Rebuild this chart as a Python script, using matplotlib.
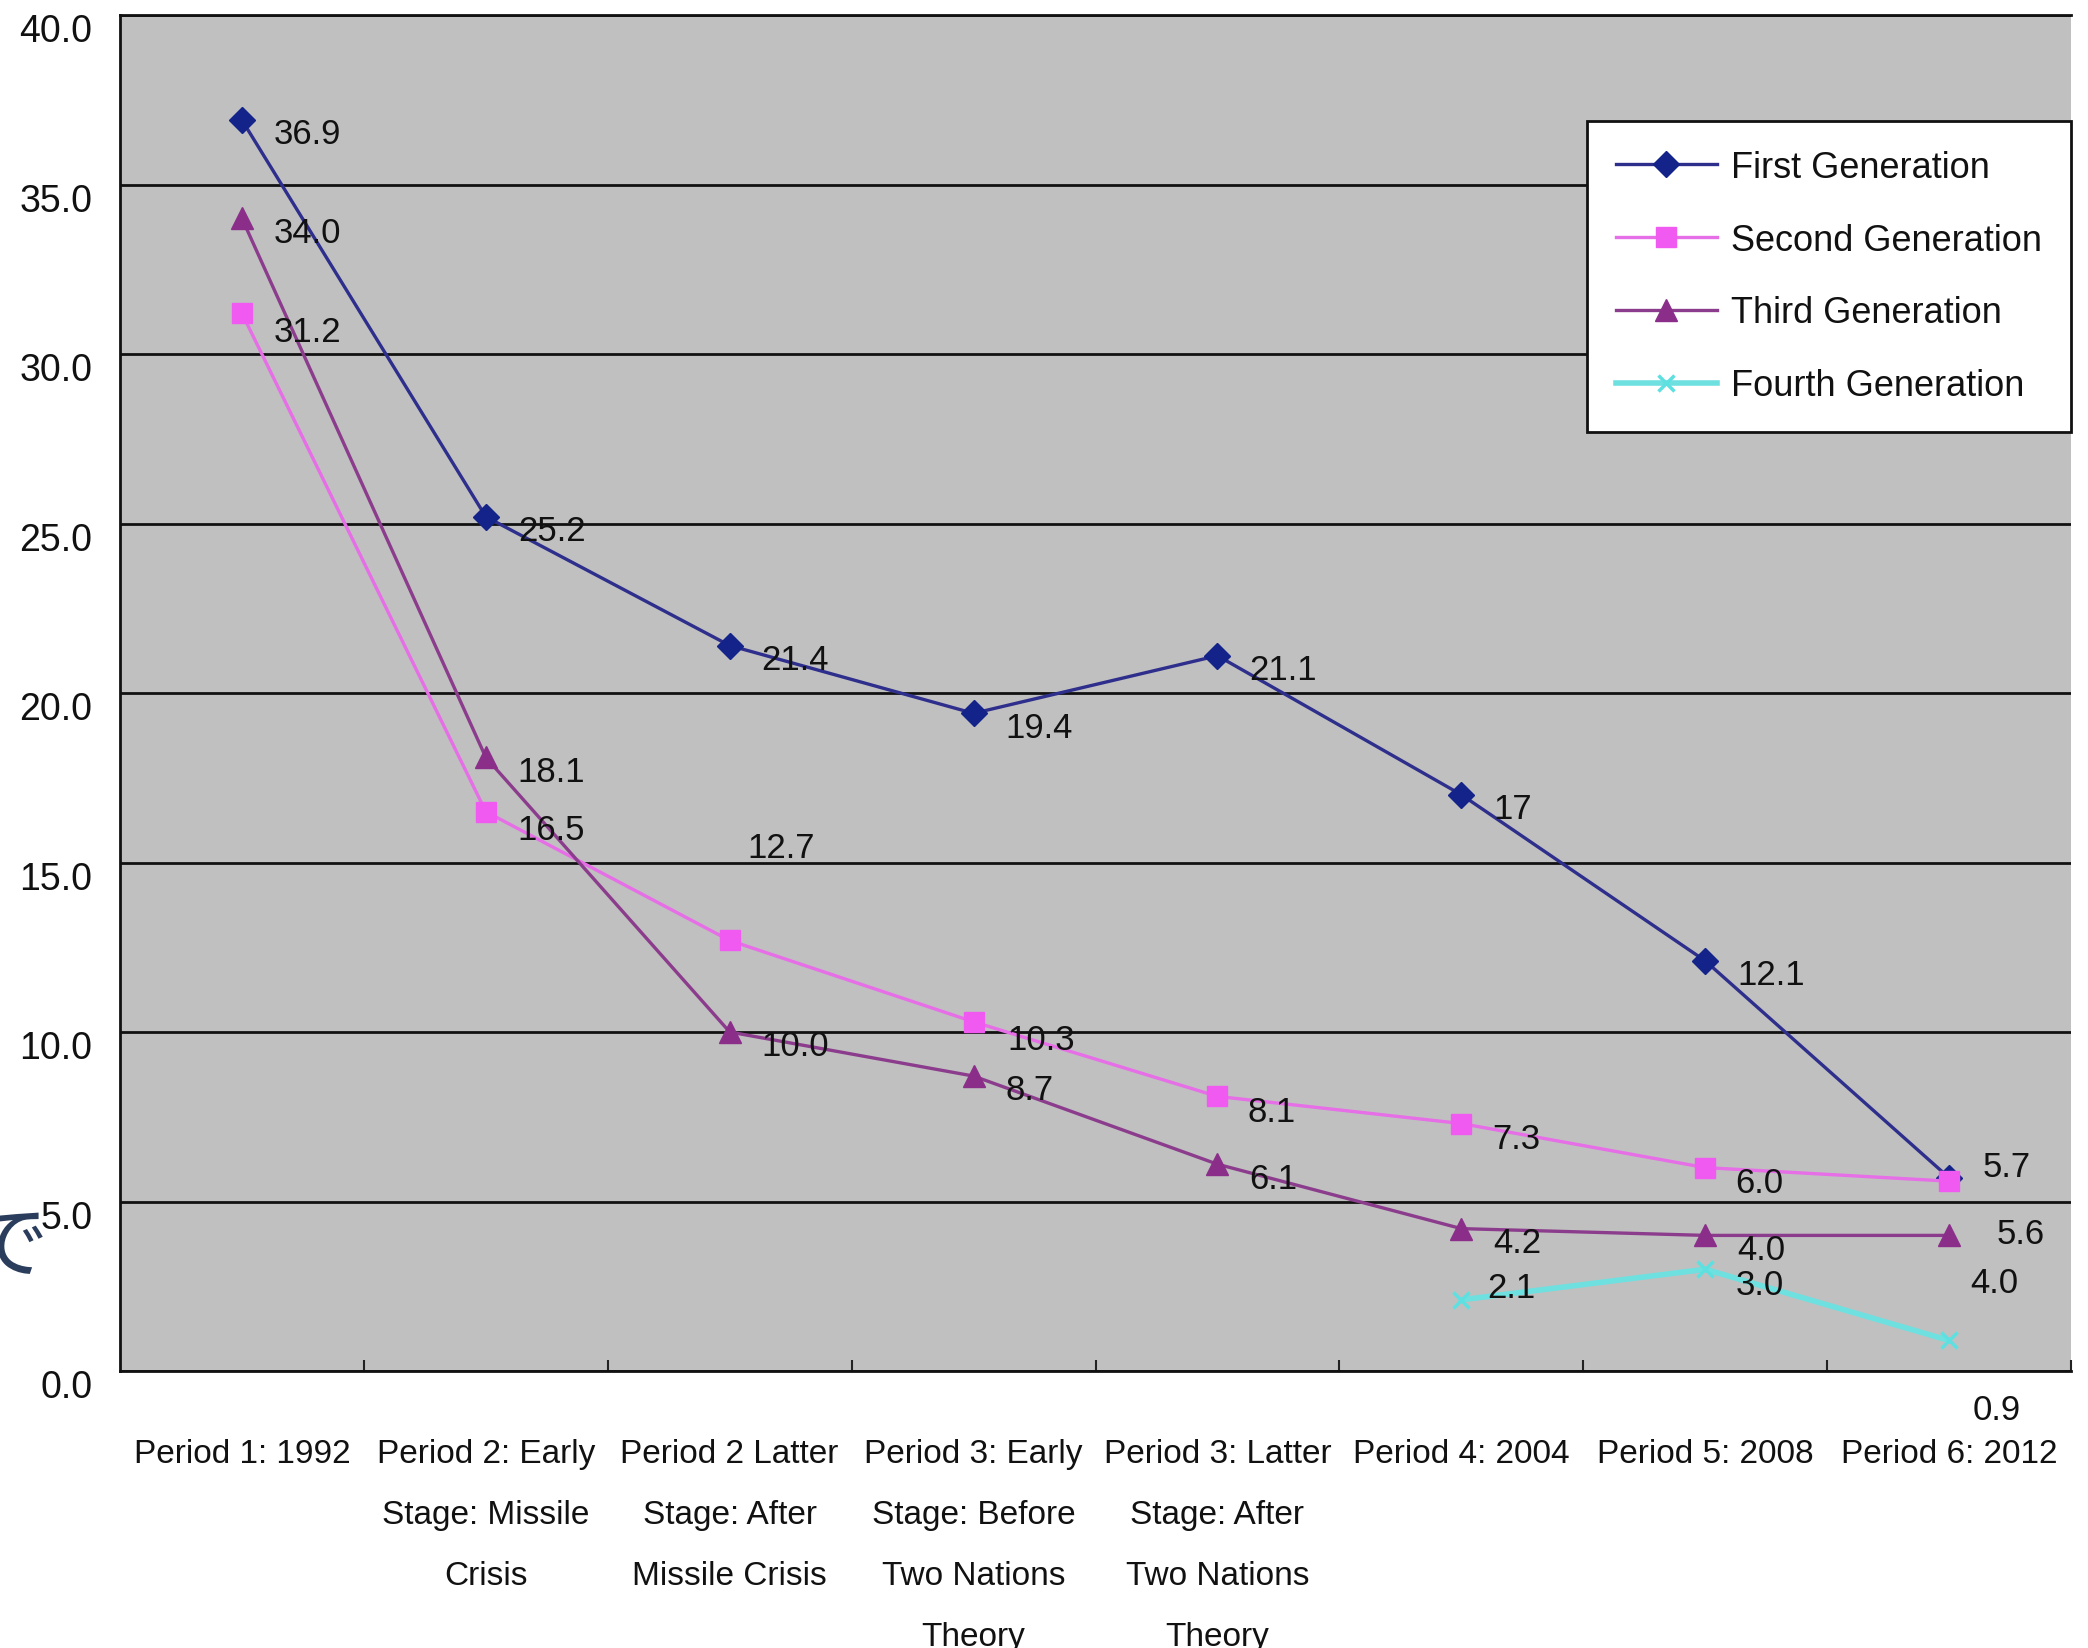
import matplotlib
matplotlib.use("Agg")
import matplotlib.pyplot as plt
import matplotlib.transforms as mtransforms
import numpy as np

plt.rcParams['font.family'] = ['Liberation Sans', 'DejaVu Sans']

periods = ['Period 1: 1992',
           'Period 2: Early\nStage: Missile\nCrisis',
           'Period 2 Latter\nStage: After\nMissile Crisis',
           'Period 3: Early\nStage: Before\nTwo Nations\nTheory',
           'Period 3: Latter\nStage: After\nTwo Nations\nTheory',
           'Period 4: 2004',
           'Period 5: 2008',
           'Period 6: 2012']

first = [36.9, 25.2, 21.4, 19.4, 21.1, 17.0, 12.1, 5.7]
second = [31.2, 16.5, 12.7, 10.3, 8.1, 7.3, 6.0, 5.6]
third = [34.0, 18.1, 10.0, 8.7, 6.1, 4.2, 4.0, 4.0]
fourth = [np.nan, np.nan, np.nan, np.nan, np.nan, 2.1, 3.0, 0.9]

first_lbl = ['36.9', '25.2', '21.4', '19.4', '21.1', '17', '12.1', '5.7']
second_lbl = ['31.2', '16.5', '12.7', '10.3', '8.1', '7.3', '6.0', '5.6']
third_lbl = ['34.0', '18.1', '10.0', '8.7', '6.1', '4.2', '4.0', '4.0']
fourth_lbl = ['', '', '', '', '', '2.1', '3.0', '0.9']

# label offsets (points) - excel put a few of them in odd places
first_off = [(23, -10)] * 7 + [(24, 8)]
second_off = [(23, -13), (23, -13), (13, 67), (24, -13), (22, -11), (22, -11), (22, -11), (34, -38)]
third_off = [(23, -10)] * 7 + [(15, -34)]
fourth_off = [(0, 0)] * 5 + [(19, 9), (22, -11), (17, -50)]

fig = plt.figure(figsize=(20.88, 16.49), dpi=100)
ax = fig.add_axes([120 / 2088, 277 / 1649, 1951 / 2088, 1356 / 1649])
ax.set_facecolor('#c0c0c0')

x = np.arange(len(periods)) + 0.5

series = [
    (first, first_lbl, first_off, 'First Generation', '#2e2e8c', '#14238a', 'D', 13),
    (second, second_lbl, second_off, 'Second Generation', '#e66ee6', '#f05af0', 's', 15),
    (third, third_lbl, third_off, 'Third Generation', '#8c3c8c', '#8a2e8a', '^', 16),
    (fourth, fourth_lbl, fourth_off, 'Fourth Generation', '#6fe0e0', '#5fe0e0', 'x', 11),
]

for vals, lbls, offs, name, lc, mc, mk, ms in series:
    lw = 4 if mk == 'x' else 2.4
    ax.plot(x, vals, color=lc, lw=lw, marker=mk, markersize=ms,
            markerfacecolor=mc, markeredgecolor=mc, markeredgewidth=2.5 if mk == 'x' else 1,
            label=name, zorder=3)
    for xi, v, t, o in zip(x, vals, lbls, offs):
        if t == '':
            continue
        ax.annotate(t, (xi, v), xytext=o, textcoords='offset points',
                    ha='left', va='center', fontsize=25, color='#111111',
                    annotation_clip=False, zorder=4)

ax.set_xlim(0, 8)
ax.set_ylim(0, 40)
ax.set_yticks(np.arange(0, 41, 5))
ax.set_yticklabels(['%.1f' % v for v in np.arange(0, 41, 5)], fontsize=27, color='#111111')
ax.yaxis.grid(True, color='#111111', lw=2)
ax.set_axisbelow(True)
ax.tick_params(axis='y', length=0, pad=20)
offset = mtransforms.ScaledTranslation(0, -9 / 72, fig.dpi_scale_trans)
for lab in ax.get_yticklabels():
    lab.set_transform(lab.get_transform() + offset)

ax.set_xticks(x)
ax.set_xticklabels(periods, fontsize=24, color='#111111', linespacing=2.25, va='top')
ax.set_xticks(np.arange(1, 9), minor=True)
ax.tick_params(axis='x', which='major', length=0, pad=48)
ax.tick_params(axis='x', which='minor', direction='in', length=8, width=1.5, color='#222222')

for s in ['left', 'bottom', 'top']:
    ax.spines[s].set_color('#111111')
    ax.spines[s].set_linewidth(2)
ax.spines['right'].set_visible(False)

leg = ax.legend(loc='upper right', bbox_to_anchor=(1.0, 0.922), borderaxespad=0,
                fontsize=26, frameon=True, fancybox=False, numpoints=1,
                handlelength=2.8, handletextpad=0.4, labelspacing=1.05,
                borderpad=0.8, framealpha=1)
leg.get_frame().set_edgecolor('#111111')
leg.get_frame().set_linewidth(2)
for t in leg.get_texts():
    t.set_color('#111111')

# stray glyph cut off at the left edge of the screenshot
fig.text(0.004, 0.243, 'で', ha='center', va='center', fontsize=58,
         color='#2b3d5c', family=['Noto Sans CJK JP', 'DejaVu Sans'])

fig.savefig('out.png', dpi=100)
